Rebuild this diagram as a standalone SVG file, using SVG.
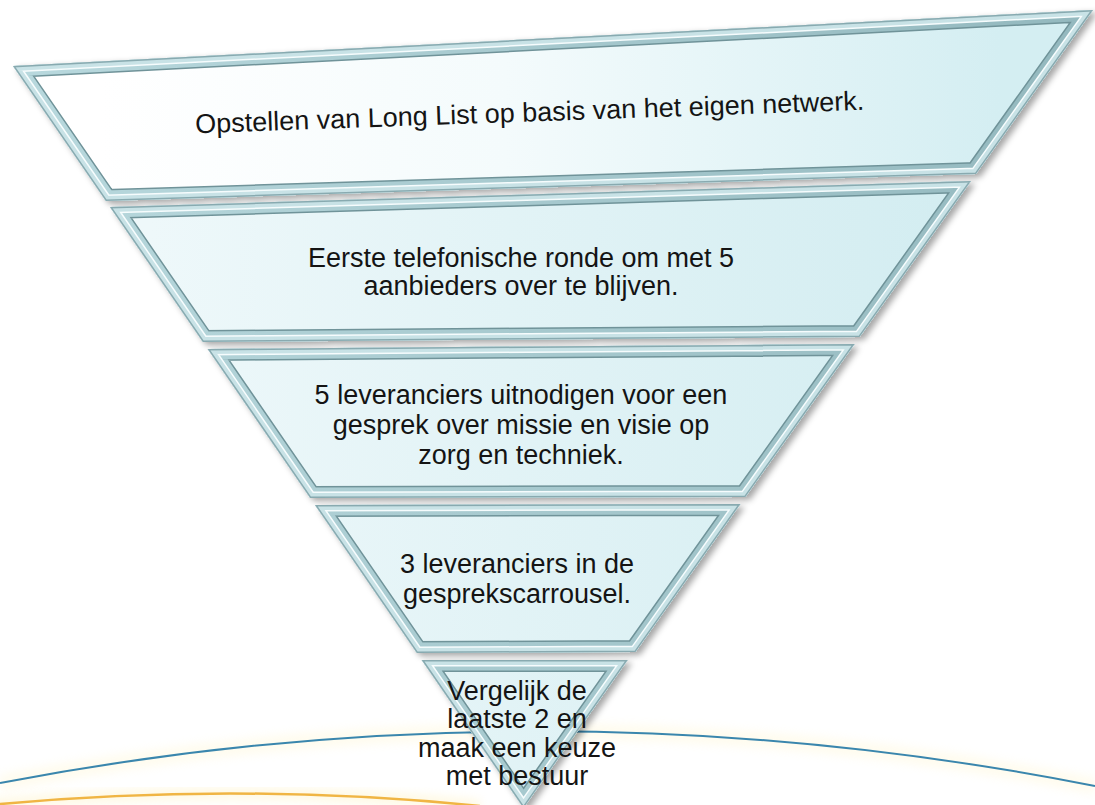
<svg xmlns="http://www.w3.org/2000/svg" xmlns:xlink="http://www.w3.org/1999/xlink" width="1095" height="805" viewBox="0 0 1095 805">
<style>
.t{font-family:"Liberation Sans",Arial,sans-serif;font-size:27px;fill:#141414;text-anchor:middle}
.b1{fill:none;stroke:#6f9399;stroke-width:24}
.b2{fill:none;stroke:url(#bev);stroke-width:21}
.b3{fill:none;stroke:#f6fcfd;stroke-width:13}
.b4{fill:none;stroke:#c8e2e6;stroke-width:10}
.b5{fill:none;stroke:#88aab0;stroke-width:3}
</style>
<defs>
<linearGradient id="bev" gradientUnits="userSpaceOnUse" x1="0" y1="0" x2="1095" y2="0">
<stop offset="0" stop-color="#b9d9de"/><stop offset="1" stop-color="#93b8be"/>
</linearGradient>
<linearGradient id="face1" gradientUnits="userSpaceOnUse" x1="100" y1="0" x2="1000" y2="0">
<stop offset="0" stop-color="#ffffff"/><stop offset="0.45" stop-color="#f4fbfc"/><stop offset="1" stop-color="#d4eef2"/>
</linearGradient>
<linearGradient id="face2" gradientUnits="userSpaceOnUse" x1="150" y1="0" x2="950" y2="0">
<stop offset="0" stop-color="#eef8fa"/><stop offset="1" stop-color="#d3edf1"/>
</linearGradient>
<filter id="sh" x="-10%" y="-10%" width="120%" height="130%">
<feDropShadow dx="4" dy="3" stdDeviation="3" flood-color="#000" flood-opacity="0.35"/>
</filter>
<filter id="glow" x="-10%" y="-50%" width="120%" height="200%">
<feGaussianBlur stdDeviation="5"/>
</filter>
<polygon id="p1" points="13,66 1093,10 976,174 105.9,201"/>
<polygon id="p2" points="110,207 971,181 859.6,337 202.9,342"/>
<polygon id="p3" points="207.7,349 854.6,344 745.4,497 310.2,498"/>
<polygon id="p4" points="315,505 740.4,504 635.5,652 416.9,653"/>
<polygon id="p5" points="421.7,660 627.7,660 523.5,808"/>
<clipPath id="c1"><use xlink:href="#p1"/></clipPath>
<clipPath id="c2"><use xlink:href="#p2"/></clipPath>
<clipPath id="c3"><use xlink:href="#p3"/></clipPath>
<clipPath id="c4"><use xlink:href="#p4"/></clipPath>
<clipPath id="c5"><use xlink:href="#p5"/></clipPath>
</defs>
<rect width="1095" height="805" fill="#ffffff"/>
<g id="connectors">
<path d="M0,783 Q548,678 1095,786" fill="none" stroke="#fff4c8" stroke-width="16" opacity="0.3" filter="url(#glow)"/>
<path d="M-20,806 Q230,781 480,806" fill="none" stroke="#ffeeb0" stroke-width="12" opacity="0.35" filter="url(#glow)"/>
<path d="M0,783 Q548,678 1095,786" fill="none" stroke="#3a86ad" stroke-width="2"/>
<path d="M-20,806 Q230,781 480,806" fill="none" stroke="#f0b544" stroke-width="2.5"/>
</g>
<g id="layer1" filter="url(#sh)">
<use xlink:href="#p1" fill="url(#face1)"/>
<g clip-path="url(#c1)">
<use xlink:href="#p1" class="b1"/><use xlink:href="#p1" class="b2"/><use xlink:href="#p1" class="b3"/><use xlink:href="#p1" class="b4"/><use xlink:href="#p1" class="b5"/>
</g>
</g>
<g id="layer2" filter="url(#sh)">
<use xlink:href="#p2" fill="url(#face2)"/>
<g clip-path="url(#c2)">
<use xlink:href="#p2" class="b1"/><use xlink:href="#p2" class="b2"/><use xlink:href="#p2" class="b3"/><use xlink:href="#p2" class="b4"/><use xlink:href="#p2" class="b5"/>
</g>
</g>
<g id="layer3" filter="url(#sh)">
<use xlink:href="#p3" fill="url(#face2)"/>
<g clip-path="url(#c3)">
<use xlink:href="#p3" class="b1"/><use xlink:href="#p3" class="b2"/><use xlink:href="#p3" class="b3"/><use xlink:href="#p3" class="b4"/><use xlink:href="#p3" class="b5"/>
</g>
</g>
<g id="layer4" filter="url(#sh)">
<use xlink:href="#p4" fill="url(#face2)"/>
<g clip-path="url(#c4)">
<use xlink:href="#p4" class="b1"/><use xlink:href="#p4" class="b2"/><use xlink:href="#p4" class="b3"/><use xlink:href="#p4" class="b4"/><use xlink:href="#p4" class="b5"/>
</g>
</g>
<g id="layer5" filter="url(#sh)">
<use xlink:href="#p5" fill="url(#face2)"/>
<g clip-path="url(#c5)">
<use xlink:href="#p5" class="b1"/><use xlink:href="#p5" class="b2"/><use xlink:href="#p5" class="b3"/><use xlink:href="#p5" class="b4"/><use xlink:href="#p5" class="b5"/>
</g>
</g>
<g id="labels">
<text class="t" x="530" y="121.5" transform="rotate(-2 530 121.5)">Opstellen van Long List op basis van het eigen netwerk.</text>
<text class="t" x="521" y="267">Eerste telefonische ronde om met 5</text>
<text class="t" x="521" y="295">aanbieders over te blijven.</text>
<text class="t" x="521" y="404">5 leveranciers uitnodigen voor een</text>
<text class="t" x="521" y="434">gesprek over missie en visie op</text>
<text class="t" x="521" y="464">zorg en techniek.</text>
<text class="t" x="517" y="573">3 leveranciers in de</text>
<text class="t" x="517" y="603">gesprekscarrousel.</text>
<text class="t" x="517" y="700">Vergelijk de</text>
<text class="t" x="517" y="728">laatste 2 en</text>
<text class="t" x="517" y="757">maak een keuze</text>
<text class="t" x="517" y="785">met bestuur</text>
</g>
</svg>
